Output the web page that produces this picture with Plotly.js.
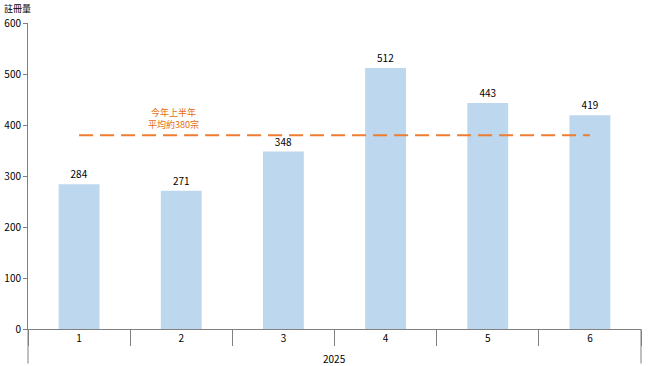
<!DOCTYPE html>
<html><head><meta charset="utf-8">
<script src="https://cdn.plot.ly/plotly-3.0.1.min.js"></script>
<style>html,body{margin:0;padding:0;background:#fff}</style>
</head><body>
<div id="chart" style="width:649px;height:366px"></div>
<script>
const months = ["1","2","3","4","5","6"];
const registrations = [284, 271, 348, 512, 443, 419];
const yearLabel = "2025";
const averageValue = 380;
const averageText = "今年上半年<br>平均約380宗";
const yTitle = "註冊量";
const yTicks = [0, 100, 200, 300, 400, 500, 600];

const FONT = "'Noto Sans CJK TC', 'Open Sans', sans-serif";

const data = [
  {
    type: "bar",
    x: months,
    y: registrations,
    width: 0.4,
    marker: {color: "#BDD7EE"},
    text: registrations.map(String),
    textposition: "outside",
    cliponaxis: false,
    textfont: {size: 10, color: "#000", family: FONT},
    hoverinfo: "none"
  },
  {
    type: "scatter",
    mode: "lines",
    x: [months[0], months[months.length-1]],
    y: [averageValue, averageValue],
    line: {color: "#ED7D31", width: 2, dash: "14px,7px"},
    hoverinfo: "none"
  }
];

const layout = {
  width: 649, height: 366,
  margin: {l: 28, r: 8, t: 23, b: 37},
  paper_bgcolor: "#fff", plot_bgcolor: "#fff",
  showlegend: false,
  font: {family: FONT, size: 10, color: "#000"},
  xaxis: {
    type: "category",
    showgrid: false,
    showline: true, linecolor: "#808080", linewidth: 1,
    ticks: "outside", tickson: "boundaries", ticklen: 16, tickcolor: "#808080", tickwidth: 1,
    tickfont: {size: 10, family: FONT, color: "#000"},
    zeroline: false
  },
  yaxis: {
    range: [0, 600],
    tickvals: yTicks,
    showgrid: false,
    showline: true, linecolor: "#808080", linewidth: 1,
    ticks: "outside", ticklen: 4, tickcolor: "#808080",
    tickfont: {size: 10, family: FONT, color: "#000"},
    zeroline: false
  },
  shapes: [
    {type: "line", xref: "paper", yref: "paper", x0: 0, x1: 0, y0: 0, y1: -0.113, line: {color: "#808080", width: 1}},
    {type: "line", xref: "paper", yref: "paper", x0: 1, x1: 1, y0: 0, y1: -0.113, line: {color: "#808080", width: 1}}
  ],
  annotations: [
    {xref: "paper", yref: "paper", x: -0.042, y: 1.049, xanchor: "left", yanchor: "middle",
     text: yTitle, showarrow: false, font: {size: 9, family: FONT, color: "#000"}},
    {xref: "paper", yref: "paper", x: 0.5, y: -0.095, xanchor: "center", yanchor: "middle",
     text: yearLabel, showarrow: false, font: {size: 10, family: FONT, color: "#000"}},
    {xref: "x", yref: "y", x: 0.92, y: averageValue + 4, xanchor: "center", yanchor: "bottom",
     text: averageText, showarrow: false, font: {size: 9, family: FONT, color: "#E46C0A"}}
  ]
};

Plotly.newPlot("chart", data, layout, {displayModeBar: false, staticPlot: true});
</script>
</body></html>
